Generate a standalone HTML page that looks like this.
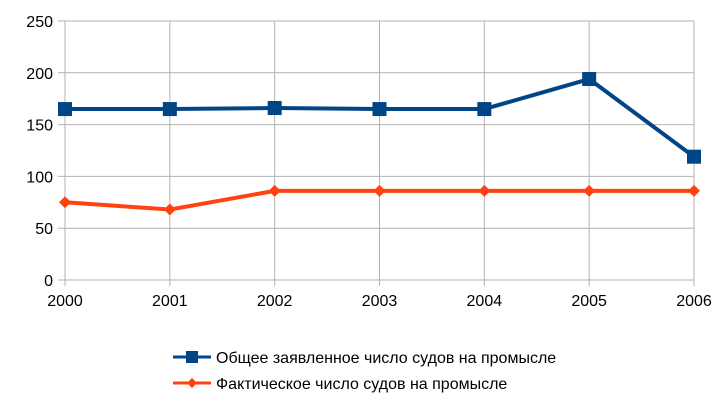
<!DOCTYPE html>
<html><head><meta charset="utf-8"><style>
body{margin:0;background:#fff;}
svg{display:block;font-family:"Liberation Sans",sans-serif;}
</style></head><body>
<svg id="c" width="728" height="406"></svg>
<script>
const years=["2000","2001","2002","2003","2004","2005","2006"];
const totalDeclared=[165,165,166,165,165,194,119];
const actualVessels=[75,68,86,86,86,86,86];
const yTicks=[0,50,100,150,200,250];
const seriesNames=["Общее заявленное число судов на промысле","Фактическое число судов на промысле"];
const NS="http://www.w3.org/2000/svg";
const svg=document.getElementById('c');
const x0=65,x1=694,yTop=21,yBot=280,yMax=250;
const xs=i=>x0+i*(x1-x0)/(years.length-1);
const ys=v=>yBot-v/yMax*(yBot-yTop);
function el(t,a,p){const e=document.createElementNS(NS,t);for(const k in a)e.setAttribute(k,a[k]);(p||svg).appendChild(e);return e;}
yTicks.forEach(v=>{
 const g=el('line',{x1:58,x2:x1,y1:ys(v),y2:ys(v),stroke:'#b3b3b3','stroke-width':1});
 
 
 const t=el('text',{x:53,y:ys(v)+6,'text-anchor':'end','font-size':16,fill:'#000'});
 t.textContent=v;
 
 
});
years.forEach((y,i)=>{
 const g=el('line',{x1:xs(i),x2:xs(i),y1:yTop,y2:yBot+6,stroke:'#b3b3b3','stroke-width':1});
 
 
 const t=el('text',{x:xs(i),y:306,'text-anchor':'middle','font-size':16,fill:'#000'});
 t.textContent=y;
 
 
});
function drawSeries(vals,color,shape,name){
 const p=el('polyline',{points:vals.map((v,i)=>xs(i)+','+ys(v)).join(' '),fill:'none',stroke:color,'stroke-width':4,'stroke-linejoin':'round'});
 
 
 vals.forEach((v,i)=>{
  let m;
  if(shape==='sq') m=el('rect',{x:xs(i)-7,y:ys(v)-7,width:14,height:14,fill:color});
  else m=el('polygon',{points:`${xs(i)},${ys(v)-6} ${xs(i)+6},${ys(v)} ${xs(i)},${ys(v)+6} ${xs(i)-6},${ys(v)}`,fill:color});
  
  
 });
}
drawSeries(actualVessels,'#ff420e','dia','actual-vessels');
drawSeries(totalDeclared,'#004586','sq','total-declared');
[[357,'#004586','sq'],[383,'#ff420e','dia']].forEach((d,i)=>{
 const g=el('g',{});
 
 
 el('line',{x1:173,x2:211,y1:d[0],y2:d[0],stroke:d[1],'stroke-width':3},g);
 if(d[2]==='sq') el('rect',{x:186,y:d[0]-6,width:12,height:12,fill:d[1]},g);
 else el('polygon',{points:`192,${d[0]-5} 197,${d[0]} 192,${d[0]+5} 187,${d[0]}`,fill:d[1]},g);
 const t=el('text',{x:216,y:d[0]+6,'font-size':16,fill:'#000'},g);
 t.textContent=seriesNames[i];
});
</script>
</body></html>
